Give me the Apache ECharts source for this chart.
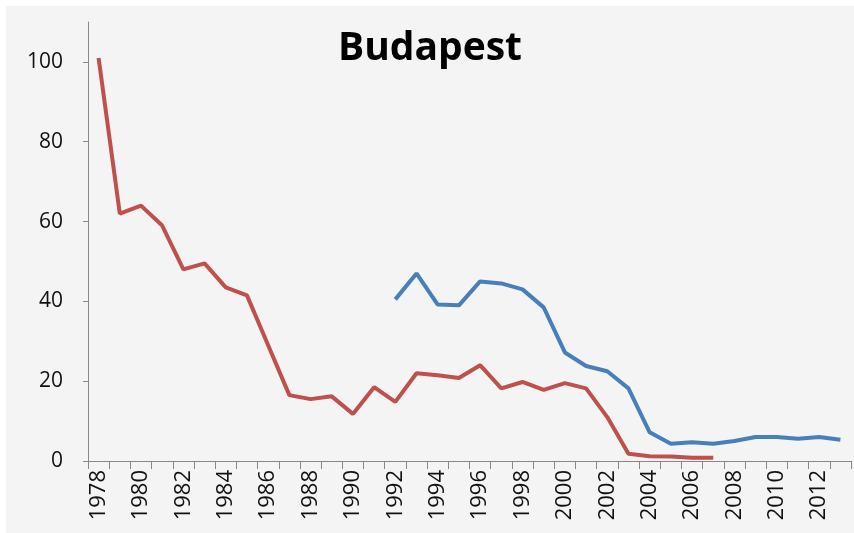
<!DOCTYPE html>
<html>
<head>
<meta charset="utf-8">
<script src="https://cdn.jsdelivr.net/npm/echarts@6/dist/echarts.min.js"></script>
<style>
  html, body { margin: 0; padding: 0; background: #fff; }
  #chart { position: absolute; left: 6px; top: 6px; width: 848px; height: 527px; background: #f4f4f4; }
</style>
</head>
<body>
<div id="chart"></div>
<script>
// years 1978..2013
const years = []
for (let y = 1978; y <= 2013; y++) years.push(String(y))

// red series: 1978-2007
const redValues = [101, 62, 64, 59, 48, 49.5, 43.5, 41.5, 29, 16.5,
  15.5, 16.2, 11.8, 18.5, 14.8, 22, 21.5, 20.8, 24, 18.2,
  19.8, 17.8, 19.5, 18.2, 11, 1.8, 1.2, 1.1, 0.8, 0.8]

// blue series: 1992-2013
const blueValues = [40.5, 47, 39.2, 39, 45, 44.5, 43, 38.5, 27.2, 23.8,
  22.5, 18.2, 7.2, 4.3, 4.7, 4.3, 5, 6, 6, 5.6, 6, 5.3]

const pad = (arr, start) => years.map((y, i) => {
  const k = i - (start - 1978)
  return k >= 0 && k < arr.length ? arr[k] : null
})

const chart = echarts.init(document.getElementById('chart'))
chart.setOption({
  animation: false,
  title: {
    text: 'Budapest',
    left: 'center',
    top: 18,
    textStyle: { fontFamily: 'Open Sans', fontWeight: 'bold', fontSize: 39, color: '#000' }
  },
  grid: { left: 82, right: 3, top: 16, bottom: 72 },
  xAxis: {
    type: 'category',
    data: years,
    boundaryGap: true,
    axisLine: { lineStyle: { color: '#888', width: 1 } },
    axisTick: { show: true, interval: 0, length: 8, alignWithLabel: false, lineStyle: { color: '#888' } },
    axisLabel: {
      interval: 1,
      rotate: 90,
      margin: 9,
      fontSize: 22,
      fontFamily: 'Open Sans',
      color: '#111'
    }
  },
  yAxis: {
    type: 'value',
    min: 0,
    max: 110,
    interval: 20,
    splitLine: { show: false },
    axisLine: { show: true, lineStyle: { color: '#888' } },
    axisTick: { show: true, length: 5, lineStyle: { color: '#888' } },
    axisLabel: {
      fontSize: 21,
      fontFamily: 'Open Sans',
      color: '#111',
      margin: 25,
      showMaxLabel: false
    }
  },
  series: [
    {
      type: 'line',
      data: pad(redValues, 1978),
      symbol: 'none',
      lineStyle: { color: '#c0504d', width: 4 },
      connectNulls: false
    },
    {
      type: 'line',
      data: pad(blueValues, 1992),
      symbol: 'none',
      lineStyle: { color: '#4a7ebb', width: 4 },
      connectNulls: false
    }
  ]
})
</script>
</body>
</html>
